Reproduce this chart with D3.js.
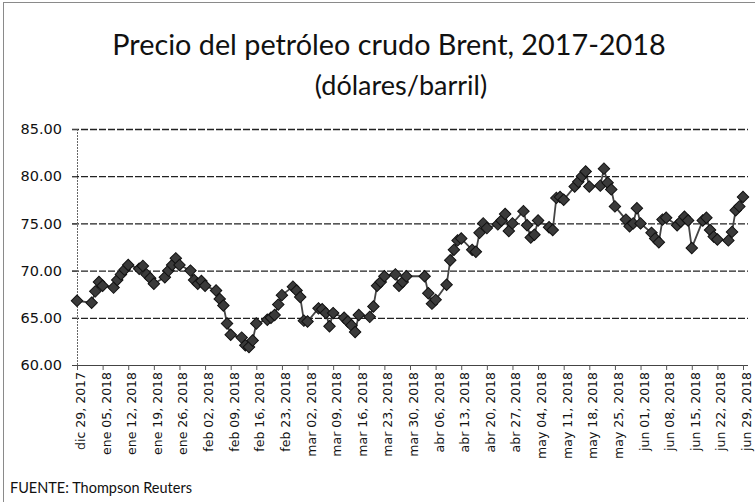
<!DOCTYPE html>
<html>
<head>
<meta charset="utf-8">
<script src="https://cdn.jsdelivr.net/npm/d3@7"></script>
<style>
  body { margin: 0; background: #fff; }
</style>
</head>
<body>
<svg id="chart" width="755" height="502"></svg>
<script>
// trading days and Brent closing price (USD/barrel)
var dates = [
  "2017-12-29","2018-01-02","2018-01-03","2018-01-04","2018-01-05",
  "2018-01-08","2018-01-09","2018-01-10","2018-01-11","2018-01-12",
  "2018-01-15","2018-01-16","2018-01-17","2018-01-18","2018-01-19",
  "2018-01-22","2018-01-23","2018-01-24","2018-01-25","2018-01-26",
  "2018-01-29","2018-01-30","2018-01-31","2018-02-01","2018-02-02",
  "2018-02-05","2018-02-06","2018-02-07","2018-02-08","2018-02-09",
  "2018-02-12","2018-02-13","2018-02-14","2018-02-15","2018-02-16",
  "2018-02-19","2018-02-20","2018-02-21","2018-02-22","2018-02-23",
  "2018-02-26","2018-02-27","2018-02-28","2018-03-01","2018-03-02",
  "2018-03-05","2018-03-06","2018-03-07","2018-03-08","2018-03-09",
  "2018-03-12","2018-03-13","2018-03-14","2018-03-15","2018-03-16",
  "2018-03-19","2018-03-20","2018-03-21","2018-03-22","2018-03-23",
  "2018-03-26","2018-03-27","2018-03-28","2018-03-29",
  "2018-04-03","2018-04-04","2018-04-05","2018-04-06",
  "2018-04-09","2018-04-10","2018-04-11","2018-04-12","2018-04-13",
  "2018-04-16","2018-04-17","2018-04-18","2018-04-19","2018-04-20",
  "2018-04-23","2018-04-24","2018-04-25","2018-04-26","2018-04-27",
  "2018-04-30","2018-05-01","2018-05-02","2018-05-03","2018-05-04",
  "2018-05-07","2018-05-08","2018-05-09","2018-05-10","2018-05-11",
  "2018-05-14","2018-05-15","2018-05-16","2018-05-17","2018-05-18",
  "2018-05-21","2018-05-22","2018-05-23","2018-05-24","2018-05-25",
  "2018-05-28","2018-05-29","2018-05-30","2018-05-31","2018-06-01",
  "2018-06-04","2018-06-05","2018-06-06","2018-06-07","2018-06-08",
  "2018-06-11","2018-06-12","2018-06-13","2018-06-14","2018-06-15",
  "2018-06-18","2018-06-19","2018-06-20","2018-06-21","2018-06-22",
  "2018-06-25","2018-06-26","2018-06-27","2018-06-28","2018-06-29"
];

var prices = [
  66.8, 66.6, 67.8, 68.8, 68.4,
  68.2, 69.0, 69.6, 70.1, 70.6,
  70.2, 70.5, 69.6, 69.2, 68.6,
  69.3, 70.0, 70.6, 71.3, 70.6,
  70.0, 69.0, 68.6, 68.9, 68.4,
  67.9, 67.0, 66.3, 64.4, 63.2,
  62.9, 62.1, 61.9, 62.6, 64.4,
  64.8, 65.0, 65.3, 66.4, 67.4,
  68.3, 67.9, 67.2, 64.7, 64.6,
  66.0, 65.9, 65.5, 64.1, 65.5,
  65.0, 64.6, 64.2, 63.5, 65.3,
  65.1, 66.2, 68.4, 68.8, 69.4,
  69.6, 68.4, 68.8, 69.4,
  69.4, 67.6, 66.5, 66.9,
  68.5, 71.1, 72.2, 73.2, 73.4,
  72.2, 72.0, 74.0, 75.0, 74.5,
  74.9, 75.3, 76.0, 74.2, 75.0,
  76.3, 74.8, 73.5, 73.8, 75.3,
  74.6, 74.3, 77.7, 77.8, 77.5,
  78.9, 79.4, 80.0, 80.5, 78.9,
  79.0, 80.8, 79.3, 78.6, 76.8,
  75.4, 74.7, 75.0, 76.6, 75.0,
  74.0, 73.4, 73.0, 75.4, 75.6,
  74.8, 75.2, 75.7, 75.3, 72.4,
  75.3, 75.6, 74.3, 73.6, 73.3,
  73.2, 74.1, 76.4, 76.8, 77.8
];

var tickLabels = [
  "dic 29, 2017", "ene 05, 2018", "ene 12, 2018", "ene 19, 2018", "ene 26, 2018",
  "feb 02, 2018", "feb 09, 2018", "feb 16, 2018", "feb 23, 2018", "mar 02, 2018",
  "mar 09, 2018", "mar 16, 2018", "mar 23, 2018", "mar 30, 2018", "abr 06, 2018",
  "abr 13, 2018", "abr 20, 2018", "abr 27, 2018", "may 04, 2018", "may 11, 2018",
  "may 18, 2018", "may 25, 2018", "jun 01, 2018", "jun 08, 2018", "jun 15, 2018",
  "jun 22, 2018", "jun 29, 2018"
];

var yTicks = [60, 65, 70, 75, 80, 85];

var svg = d3.select("#chart");
var parse = d3.timeParse("%Y-%m-%d");

var data = dates.map(function (d, i) { return { date: parse(d), value: prices[i] }; });

var margins = { top: 129, left: 77, right: 10, bottom: 137 };
var width = 743 - margins.left;
var height = 365 - margins.top;

// weekly ticks, one per label
var weeks = d3.timeDay.range(parse("2017-12-29"), parse("2018-06-30"), 7);

var x = d3.scaleTime()
    .domain([weeks[0], weeks[weeks.length - 1]])
    .range([margins.left, margins.left + width]);

var y = d3.scaleLinear()
    .domain([60, 85])
    .range([margins.top + height, margins.top]);

// outer frame of the chart area
svg.append("rect")
    .attr("x", 3.5).attr("y", 2.5)
    .attr("width", 800).attr("height", 600)
    .attr("fill", "none")
    .attr("stroke", "#8a8a8a")
    .attr("stroke-width", 1);

// title
svg.append("text")
    .attr("x", 389).attr("y", 55)
    .attr("text-anchor", "middle")
    .style("font-family", "Lato, sans-serif")
    .style("font-size", "28.8px")
    .attr("fill", "#111")
    .text("Precio del petróleo crudo Brent, 2017-2018");

svg.append("text")
    .attr("x", 401).attr("y", 95)
    .attr("text-anchor", "middle")
    .style("font-family", "Lato, sans-serif")
    .style("font-size", "27px")
    .attr("fill", "#111")
    .text("(dólares/barril)");

// gridlines
svg.append("g")
    .selectAll("line")
    .data(yTicks.slice(1))
    .enter().append("line")
    .attr("x1", margins.left - 5)
    .attr("x2", 748)
    .attr("y1", function (d) { return y(d) + 0.5; })
    .attr("y2", function (d) { return y(d) + 0.5; })
    .attr("stroke", "#222")
    .attr("stroke-width", 1.3)
    .attr("stroke-dasharray", "7,2");

// y axis
var yAxis = svg.append("g")
    .attr("transform", "translate(" + margins.left + ",0)")
    .call(d3.axisLeft(y).tickValues(yTicks).tickSize(5).tickPadding(10).tickFormat(d3.format(".2f")));
yAxis.select(".domain").attr("stroke", "#666").attr("stroke-dasharray", "2,1");
yAxis.selectAll(".tick line").attr("stroke", "#444");
yAxis.selectAll("text")
    .style("font-family", "'DejaVu Sans', sans-serif")
    .style("font-size", "14.5px")
    .attr("fill", "#111");

// x axis
var xAxis = svg.append("g")
    .attr("transform", "translate(0," + (margins.top + height) + ")")
    .call(d3.axisBottom(x).tickValues(weeks).tickSize(5)
        .tickFormat(function (d, i) { return tickLabels[i]; }));
xAxis.select(".domain").attr("stroke", "#444").attr("d", "M" + margins.left + ",0.5H748");
xAxis.selectAll(".tick line").attr("stroke", "#555");
xAxis.selectAll("text")
    .style("font-family", "'DejaVu Sans', sans-serif")
    .style("font-size", "12.5px")
    .attr("fill", "#111")
    .attr("text-anchor", "end")
    .attr("transform", "rotate(-90)")
    .attr("x", -7)
    .attr("y", 0)
    .attr("dy", "0.6em");

// price line
var line = d3.line()
    .x(function (d) { return x(d.date); })
    .y(function (d) { return y(d.value); });

svg.append("path")
    .datum(data)
    .attr("fill", "none")
    .attr("stroke", "#444")
    .attr("stroke-width", 1.8)
    .attr("d", line);

// diamond markers
var diamond = d3.symbol().type(d3.symbolSquare).size(66);
svg.append("g")
    .selectAll("path")
    .data(data)
    .enter().append("path")
    .attr("d", diamond)
    .attr("transform", function (d) {
        return "translate(" + x(d.date) + "," + y(d.value) + ") rotate(45)";
    })
    .attr("fill", "#3a3a3a")
    .attr("stroke", "#111")
    .attr("stroke-width", 1);

// source note
svg.append("text")
    .attr("x", 10).attr("y", 493)
    .style("font-family", "Lato, sans-serif")
    .style("font-size", "14.5px")
    .attr("fill", "#111")
    .text("FUENTE: Thompson Reuters");
</script>
</body>
</html>
